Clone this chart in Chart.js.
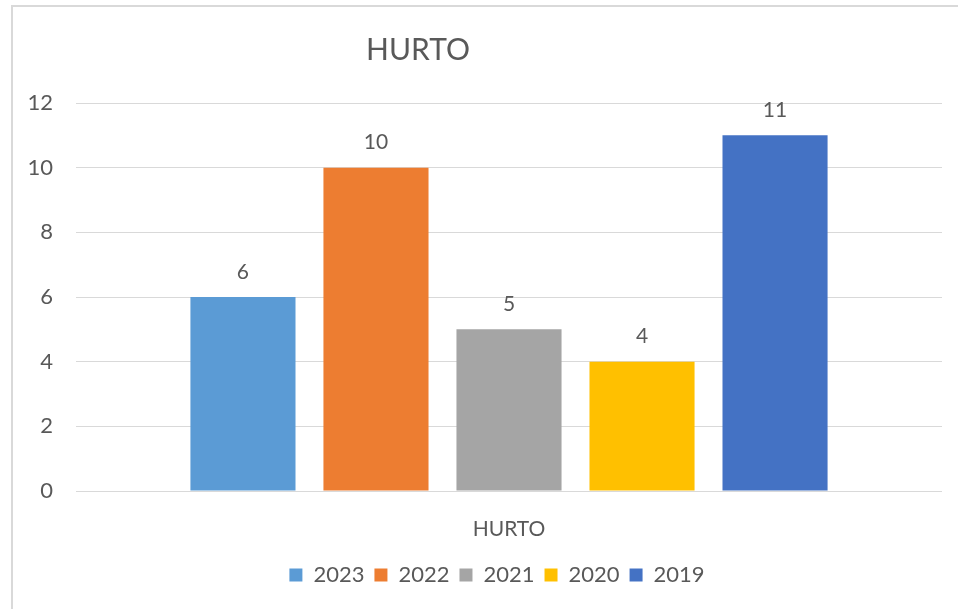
<!DOCTYPE html>
<html>
<head>
<meta charset="utf-8">
<title>HURTO</title>
<script src="https://cdn.jsdelivr.net/npm/chart.js@4.4.0/dist/chart.umd.min.js"></script>
<style>
  html, body { margin: 0; padding: 0; background: #fff; overflow: hidden; }
  #wrap { position: relative; width: 958px; height: 609px; }
  #frame {
    position: absolute; left: 11px; top: 5px; width: 1000px; height: 700px;
    border-left: 2px solid #d9d9d9; border-top: 2px solid #d9d9d9;
    pointer-events: none;
  }
  canvas { position: absolute; left: 0; top: 0; }
</style>
</head>
<body>
<div id="wrap">
  <canvas id="hurtoChart" width="958" height="609"></canvas>
  <div id="frame"></div>
</div>
<script>
// Chart data
const chartTitle = 'HURTO';
const categories = ['HURTO'];
const years = ['2023', '2022', '2021', '2020', '2019'];
const values = [6, 10, 5, 4, 11];
const barColors = ['#5B9BD5', '#ED7D31', '#A5A5A5', '#FFC000', '#4472C4'];
const yTicks = [0, 2, 4, 6, 8, 10, 12];

const textColor = '#595959';
const fontFamily = 'Lato, "Open Sans", "Liberation Sans", sans-serif';

// one dataset per year, each with the single category value
const datasets = years.map((year, i) => ({
  label: year,
  data: [values[i]],
  backgroundColor: barColors[i],
  barPercentage: 0.79,
  categoryPercentage: 0.768
}));

// Title drawn off-centre like the original
const titlePlugin = {
  id: 'offsetTitle',
  afterDraw(chart) {
    const ctx = chart.ctx;
    ctx.save();
    ctx.font = '30px ' + fontFamily;
    ctx.fillStyle = textColor;
    ctx.textAlign = 'center';
    ctx.textBaseline = 'middle';
    ctx.fillText(chartTitle, 418, 50);
    ctx.restore();
  }
};

// nudge the legend a bit right, the original is centred on the plot more than the page
const legendShift = {
  id: 'legendShift',
  afterLayout(chart) {
    if (chart.legend) {
      chart.legend.left += 26;
      chart.legend.right += 26;
    }
  }
};

// value labels above each bar
const valueLabels = {
  id: 'valueLabels',
  afterDatasetsDraw(chart) {
    const ctx = chart.ctx;
    ctx.save();
    ctx.font = '21px ' + fontFamily;
    ctx.fillStyle = textColor;
    ctx.textAlign = 'center';
    ctx.textBaseline = 'middle';
    chart.data.datasets.forEach((ds, i) => {
      const meta = chart.getDatasetMeta(i);
      meta.data.forEach((bar, j) => {
        ctx.fillText(String(ds.data[j]), bar.x, bar.y - 25);
      });
    });
    ctx.restore();
  }
};

const ctx = document.getElementById('hurtoChart').getContext('2d');
const chart = new Chart(ctx, {
  type: 'bar',
  data: {
    labels: categories,
    datasets: datasets
  },
  plugins: [titlePlugin, legendShift, valueLabels],
  options: {
    responsive: false,
    animation: false,
    layout: {
      padding: { top: 103, right: 16, bottom: 13, left: 0 }
    },
    plugins: {
      title: { display: false },
      tooltip: { enabled: false },
      legend: {
        position: 'bottom',
        labels: {
          boxWidth: 13,
          boxHeight: 13,
          padding: 10,
          color: textColor,
          font: { family: fontFamily, size: 22 }
        }
      }
    },
    scales: {
      x: {
        grid: { display: false },
        border: { display: false },
        ticks: {
          color: textColor,
          padding: 18,
          font: { family: fontFamily, size: 21 }
        },
        afterFit(scale) { scale.height = 63; }
      },
      y: {
        min: 0,
        max: 12,
        afterBuildTicks(scale) {
          scale.ticks = yTicks.map(v => ({ value: v }));
        },
        grid: { color: '#d9d9d9', lineWidth: 1, drawTicks: false },
        border: { display: false },
        ticks: {
          color: textColor,
          padding: 23,
          font: { family: fontFamily, size: 22 }
        },
        afterFit(scale) { scale.width = 76; }
      }
    }
  }
});
</script>
</body>
</html>
